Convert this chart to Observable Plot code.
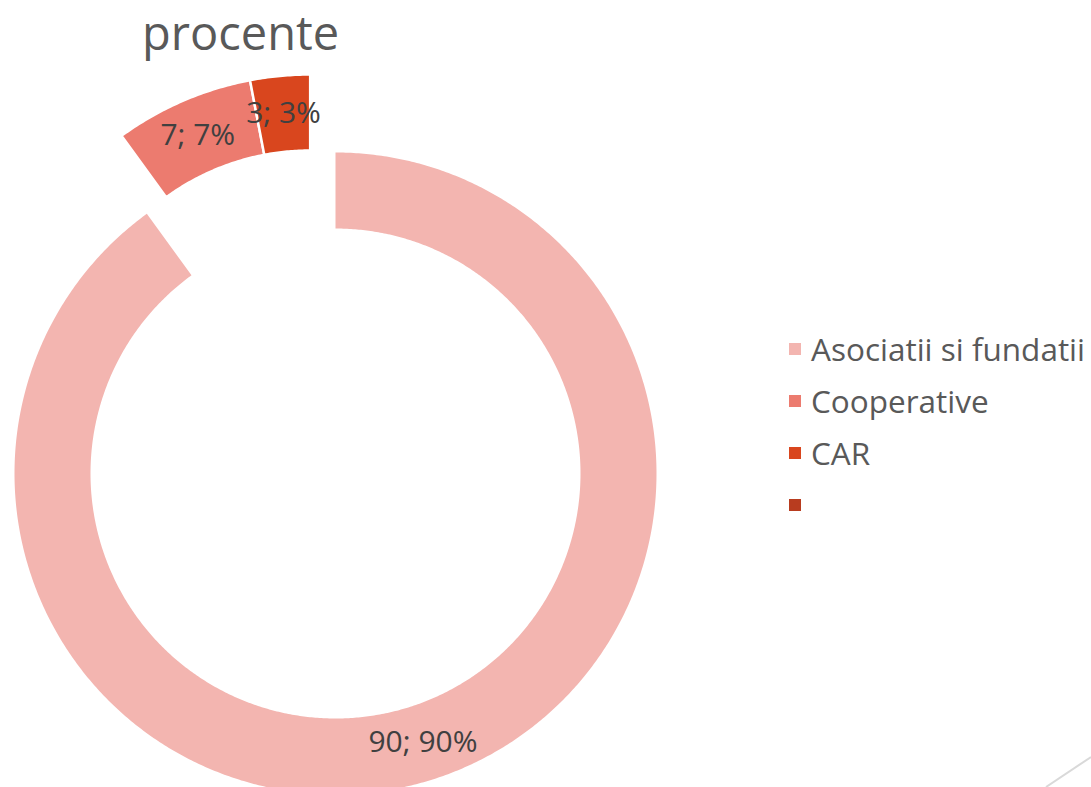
<!DOCTYPE html>
<html>
<head>
<meta charset="utf-8">
<script src="https://cdn.jsdelivr.net/npm/d3@7"></script>
<script src="https://cdn.jsdelivr.net/npm/@observablehq/plot@0.6"></script>
<style>
  html, body { margin: 0; padding: 0; background: #ffffff; }
  body { width: 1091px; height: 787px; overflow: hidden; position: relative; font-family: "Open Sans", sans-serif; }
  #title { height: 62px; position: relative; }
  #title span { position: absolute; left: 142px; top: 9px; font-size: 47px; line-height: 46px; color: #595959; white-space: nowrap; }
  #row { display: flex; }
  #legend { position: absolute; left: 789px; top: 323px; }
  .item { display: flex; align-items: center; height: 52px; }
  .sw { width: 12px; height: 12px; margin-right: 10px; }
  .lab { font-size: 31.5px; color: #595959; white-space: nowrap; line-height: 52px; }
  #deco { position: absolute; left: 0; top: 0; pointer-events: none; }
</style>
</head>
<body>
<div id="title"><span>procente</span></div>
<div id="row"><div id="chart"></div></div>
<div id="legend"></div>
<svg id="deco" width="1091" height="787"><line x1="1091" y1="757" x2="1046" y2="787" stroke="#d9d9d9" stroke-width="2"/></svg>
<script>
// ---- data ----
const categories = ["Asociatii si fundatii", "Cooperative", "CAR", ""];
const values = [90, 7, 3, 0];
const percents = [90, 7, 3, null];
const colors = ["#F3B5B0", "#EC7B6F", "#D9461E", "#B83C1F"];
const exploded = [false, true, true, false];

// ---- layout (page pixels) ----
const W = 780, H = 725, top0 = 62;
const cx = 335, cy = 473, R = 321, r0 = 245, explodeDist = 82;

const slices = d3.pie().sort(null).value(d => d.value)(
  categories.map((c, i) => ({cat: c, value: values[i], pct: percents[i], exploded: exploded[i]}))
);

// offset for the exploded group along its bisector
const ex = slices.filter(s => s.data.exploded && s.data.value > 0);
const gMid = (d3.min(ex, s => s.startAngle) + d3.max(ex, s => s.endAngle)) / 2;
const off = {dx: explodeDist * Math.sin(gMid), dy: -explodeDist * Math.cos(gMid)};

const pts = [];
const labels = [];
for (const s of slices) {
  if (!(s.data.value > 0)) continue;
  const o = s.data.exploded ? off : {dx: 0, dy: 0};
  const n = Math.max(4, Math.ceil((s.endAngle - s.startAngle) / 0.008));
  const ring = [];
  for (let k = 0; k <= n; k++) { const a = s.startAngle + (s.endAngle - s.startAngle) * k / n; ring.push([a, R]); }
  for (let k = n; k >= 0; k--) { const a = s.startAngle + (s.endAngle - s.startAngle) * k / n; ring.push([a, r0]); }
  ring.push(ring[0]);
  ring.forEach(([a, rr], j) => pts.push({cat: s.data.cat, ex: s.data.exploded, j, x: cx + o.dx + rr * Math.sin(a), y: cy + o.dy - rr * Math.cos(a)}));
  const m = (s.startAngle + s.endAngle) / 2, rm = (R + r0) / 2;
  labels.push({x: cx + o.dx + rm * Math.sin(m), y: cy + o.dy - rm * Math.cos(m), text: `${s.data.value}; ${s.data.pct}%`});
}

const plot = Plot.plot({
  width: W, height: H,
  margin: 0,
  x: {domain: [0, W], range: [0, W], axis: null},
  y: {domain: [top0, top0 + H], range: [0, H], axis: null},
  color: {domain: categories, range: colors},
  style: {fontFamily: "Open Sans, sans-serif", background: "transparent", overflow: "hidden"},
  marks: [
    Plot.line(pts.filter(d => !d.ex), {x: "x", y: "y", z: "cat", fill: "cat", stroke: "none"}),
    Plot.line(pts.filter(d => d.ex), {x: "x", y: "y", z: "cat", fill: "cat", stroke: "white", strokeWidth: 2.5, strokeLinejoin: "miter"}),
    Plot.text(labels, {x: "x", y: "y", text: "text", fill: "#404040", fontSize: 30})
  ]
});
document.getElementById("chart").appendChild(plot);

const leg = document.getElementById("legend");
categories.forEach((c, i) => {
  const row = document.createElement("div"); row.className = "item";
  const sw = document.createElement("div"); sw.className = "sw"; sw.style.background = plot.scale("color").apply(c);
  const t = document.createElement("span"); t.className = "lab"; t.textContent = c;
  row.appendChild(sw); row.appendChild(t); leg.appendChild(row);
});
</script>
</body>
</html>
